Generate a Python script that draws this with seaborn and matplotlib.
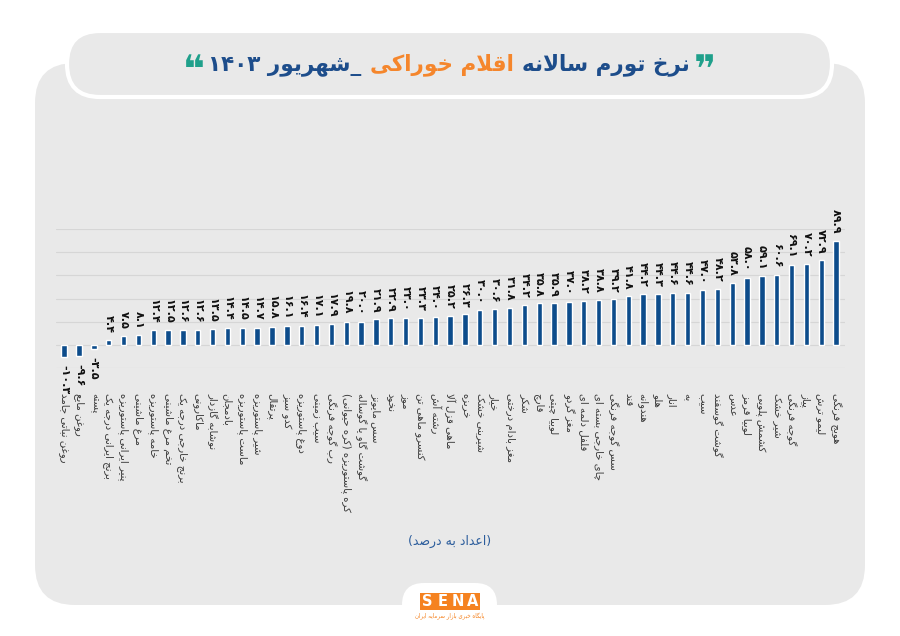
import re
import numpy as np
import pandas as pd
import matplotlib
matplotlib.use("Agg")
import matplotlib.pyplot as plt
import seaborn as sns
from matplotlib.patches import FancyBboxPatch, Rectangle
from matplotlib.offsetbox import TextArea, HPacker, AnnotationBbox

# ---------------- data ----------------
categories = [
    "روغن نباتی جامد", "روغن مایع", "پسته", "برنج ایرانی درجه یک",
    "پنیر ایرانی پاستوریزه", "مرغ ماشینی", "خامه پاستوریزه", "تخم مرغ ماشینی",
    "برنج خارجی درجه یک", "ماکارونی", "نوشابه گازدار", "بادمجان",
    "ماست پاستوریزه", "شیر پاستوریزه", "پرتقال", "کدو سبز", "دوغ پاستوریزه",
    "سیب زمینی", "رب گوجه فرنگی", "کره پاستوریزه (کره حیوانی)",
    "گوشت گاو یا گوساله", "سس مایونز", "نخود", "موز", "کنسرو ماهی تن",
    "رشته آش", "ماهی قزل آلا", "خربزه", "شیرینی خشک", "خیار",
    "مغز بادام درختی", "شکر", "قارچ", "لوبیا چیتی", "مغز گردو",
    "فلفل دلمه ای", "چای خارجی بسته ای", "سس گوجه فرنگی", "قند", "هندوانه",
    "هلو", "انار", "به", "سیب", "گوشت گوسفند", "عدس", "لوبیا قرمز",
    "کشمش پلویی", "شیر خشک", "گوجه فرنگی", "پیاز", "لیمو ترش", "هویج فرنگی",
]
values = [
    -10.3, -9.6, -3.5, 4.4, 7.5, 8.1, 12.4, 12.5, 12.6, 12.6, 13.5, 14.4,
    14.5, 14.7, 15.8, 16.1, 16.4, 17.1, 17.9, 19.8, 20.0, 21.9, 22.9, 23.0,
    23.3, 24.0, 25.2, 26.3, 30.0, 30.6, 31.8, 34.2, 35.8, 35.9, 37.0, 38.2,
    38.8, 39.2, 41.8, 44.2, 44.3, 44.6, 44.6, 47.0, 48.2, 53.8, 58.0, 59.1,
    60.6, 69.1, 70.2, 72.9, 89.9,
]
title_right = "نرخ تورم سالانه"
title_mid = "اقلام خوراکی"
title_left = "_شهریور ۱۴۰۳"
unit_note = "(اعداد به درصد)"
logo_text = "SENA"
logo_sub = "پایگاه خبری بازار سرمایه ایران"

# ---------------- Persian shaping (matplotlib has no complex text layout) ----------------
FORMS = {
    'ا': ('\uFE8D', '\uFE8E', None, None), 'آ': ('\uFE81', '\uFE82', None, None),
    'ب': ('\uFE8F', '\uFE90', '\uFE91', '\uFE92'), 'پ': ('\uFB56', '\uFB57', '\uFB58', '\uFB59'),
    'ت': ('\uFE95', '\uFE96', '\uFE97', '\uFE98'), 'ث': ('\uFE99', '\uFE9A', '\uFE9B', '\uFE9C'),
    'ج': ('\uFE9D', '\uFE9E', '\uFE9F', '\uFEA0'), 'چ': ('\uFB7A', '\uFB7B', '\uFB7C', '\uFB7D'),
    'ح': ('\uFEA1', '\uFEA2', '\uFEA3', '\uFEA4'), 'خ': ('\uFEA5', '\uFEA6', '\uFEA7', '\uFEA8'),
    'د': ('\uFEA9', '\uFEAA', None, None), 'ذ': ('\uFEAB', '\uFEAC', None, None),
    'ر': ('\uFEAD', '\uFEAE', None, None), 'ز': ('\uFEAF', '\uFEB0', None, None),
    'ژ': ('\uFB8A', '\uFB8B', None, None),
    'س': ('\uFEB1', '\uFEB2', '\uFEB3', '\uFEB4'), 'ش': ('\uFEB5', '\uFEB6', '\uFEB7', '\uFEB8'),
    'ص': ('\uFEB9', '\uFEBA', '\uFEBB', '\uFEBC'), 'ض': ('\uFEBD', '\uFEBE', '\uFEBF', '\uFEC0'),
    'ط': ('\uFEC1', '\uFEC2', '\uFEC3', '\uFEC4'), 'ظ': ('\uFEC5', '\uFEC6', '\uFEC7', '\uFEC8'),
    'ع': ('\uFEC9', '\uFECA', '\uFECB', '\uFECC'), 'غ': ('\uFECD', '\uFECE', '\uFECF', '\uFED0'),
    'ف': ('\uFED1', '\uFED2', '\uFED3', '\uFED4'), 'ق': ('\uFED5', '\uFED6', '\uFED7', '\uFED8'),
    'ک': ('\uFB8E', '\uFB8F', '\uFB90', '\uFB91'), 'ك': ('\uFED9', '\uFEDA', '\uFEDB', '\uFEDC'),
    'گ': ('\uFB92', '\uFB93', '\uFB94', '\uFB95'),
    'ل': ('\uFEDD', '\uFEDE', '\uFEDF', '\uFEE0'), 'م': ('\uFEE1', '\uFEE2', '\uFEE3', '\uFEE4'),
    'ن': ('\uFEE5', '\uFEE6', '\uFEE7', '\uFEE8'), 'و': ('\uFEED', '\uFEEE', None, None),
    'ه': ('\uFEE9', '\uFEEA', '\uFEEB', '\uFEEC'), 'ی': ('\uFBFC', '\uFBFD', '\uFBFE', '\uFBFF'),
    'ي': ('\uFEF1', '\uFEF2', '\uFEF3', '\uFEF4'), 'ئ': ('\uFE89', '\uFE8A', '\uFE8B', '\uFE8C'),
}
LAM_ALEF = {'ا': ('\uFEFB', '\uFEFC'), 'آ': ('\uFEF5', '\uFEF6')}
MIRROR = {'(': ')', ')': '('}


def _dual(c):
    return c in FORMS and FORMS[c][2] is not None


def shape(s):
    out, i, n = [], 0, len(s)
    while i < n:
        c = s[i]
        if c not in FORMS:
            out.append(c)
            i += 1
            continue
        pj = i > 0 and _dual(s[i - 1])
        if c == 'ل' and i + 1 < n and s[i + 1] in LAM_ALEF:
            lig = LAM_ALEF[s[i + 1]]
            out.append(lig[1] if pj else lig[0])
            i += 2
            continue
        nj = _dual(c) and i + 1 < n and s[i + 1] in FORMS
        iso, fin, ini, med = FORMS[c]
        out.append(med if (pj and nj) else fin if pj else ini if nj else iso)
        i += 1
    return ''.join(out)


def visual(s):
    runs = re.findall(r'[0-9۰-۹.]+|[^0-9۰-۹.]+', shape(s))
    res = []
    for r in reversed(runs):
        if re.match(r'[0-9۰-۹]', r):
            res.append(r)
        else:
            res.append(''.join(MIRROR.get(ch, ch) for ch in reversed(r)))
    return ''.join(res)


def fa_num(v):
    return f"{v:.1f}".translate(str.maketrans("0123456789", "۰۱۲۳۴۵۶۷۸۹"))


# ---------------- styling ----------------
sns.set_style("white")
plt.rcParams['font.family'] = ['DejaVu Sans']

BAR = "#0d4c8b"
PANEL = "#e9e9e9"
BLUE = "#1d4d8b"
ORANGE = "#f5862c"
TEAL = "#1fa08b"

fig = plt.figure(figsize=(9, 6.36), dpi=100)
fig.patch.set_facecolor("white")

# background decoration in pixel coordinates
bg = fig.add_axes([0, 0, 1, 1], zorder=0)
bg.set_xlim(0, 900)
bg.set_ylim(636, 0)
bg.axis("off")
bg.add_patch(FancyBboxPatch((35, 63), 830, 542, boxstyle="round,pad=0,rounding_size=40",
                            fc=PANEL, ec="none"))
bg.add_patch(FancyBboxPatch((67, 31), 765, 66, boxstyle="round,pad=0,rounding_size=33",
                            fc=PANEL, ec="white", lw=3))
bg.add_patch(FancyBboxPatch((402, 583), 95, 80, boxstyle="round,pad=0,rounding_size=22",
                            fc="white", ec="none"))
bg.add_patch(Rectangle((420, 593), 60, 17, fc="#f58220", ec="none"))
for k, ch in enumerate(logo_text):
    bg.text(427.5 + 15 * k, 602, ch, color="white", fontsize=10.5, fontweight="bold",
            ha="center", va="center")
bg.text(450, 616, visual(logo_sub), color="#f58220", fontsize=4, ha="center", va="center")
bg.text(450, 541, visual(unit_note), color="#2c5d9c", fontsize=9, ha="center", va="center")

# title, pieces in visual left-to-right order
tp = dict(fontsize=15.5, fontweight="bold")
pieces = [
    TextArea(visual(title_left), textprops=dict(color=BLUE, **tp)),
    TextArea(visual(title_mid), textprops=dict(color=ORANGE, **tp)),
    TextArea(visual(title_right), textprops=dict(color=BLUE, **tp)),
]
pack = HPacker(children=pieces, align="center", pad=0, sep=6)
bg.add_artist(AnnotationBbox(pack, (449, 65), xycoords="data", frameon=False,
                             box_alignment=(0.5, 0.5)))
bg.text(194, 72, "\u275D", color=TEAL, fontsize=27, fontweight="bold", ha="center", va="center")
bg.text(705, 72, "\u275E", color=TEAL, fontsize=27, fontweight="bold", ha="center", va="center")

# ---------------- chart ----------------
ax = fig.add_axes([56 / 900, (636 - 368) / 636, (845 - 56) / 900, (368 - 229) / 636], zorder=2)
ax.set_facecolor("none")
df = pd.DataFrame({"item": categories, "value": values})
sns.barplot(data=df, x="item", y="value", color=BAR, saturation=1, width=0.36,
            errorbar=None, ax=ax, zorder=3)
ax.set_ylim(-20, 100)
ax.set_xlim(-0.55, len(categories) - 0.4)
ax.set_yticks(np.arange(-20, 101, 20))
ax.set_yticklabels([])
ax.yaxis.grid(True, color="#d6d6d6", lw=0.8)
ax.set_axisbelow(True)
for sp in ax.spines.values():
    sp.set_visible(False)
ax.set_xlabel("")
ax.set_ylabel("")
ax.set_xticks(range(len(categories)))
ax.set_xticklabels([visual(c) for c in categories], rotation=-90, fontsize=7.3, color="#3a3a3a")
ax.tick_params(axis="x", length=0, pad=18)
ax.tick_params(axis="y", length=0)

for i, v in enumerate(values):
    ax.annotate(fa_num(v), (i, v), xytext=(0, 5 if v > 0 else -6), textcoords="offset points",
                rotation=-90, ha="center", va="bottom" if v > 0 else "top",
                fontsize=8, fontweight="bold", color="#111111", annotation_clip=False)

fig.savefig("out.png", dpi=100, facecolor="white")
